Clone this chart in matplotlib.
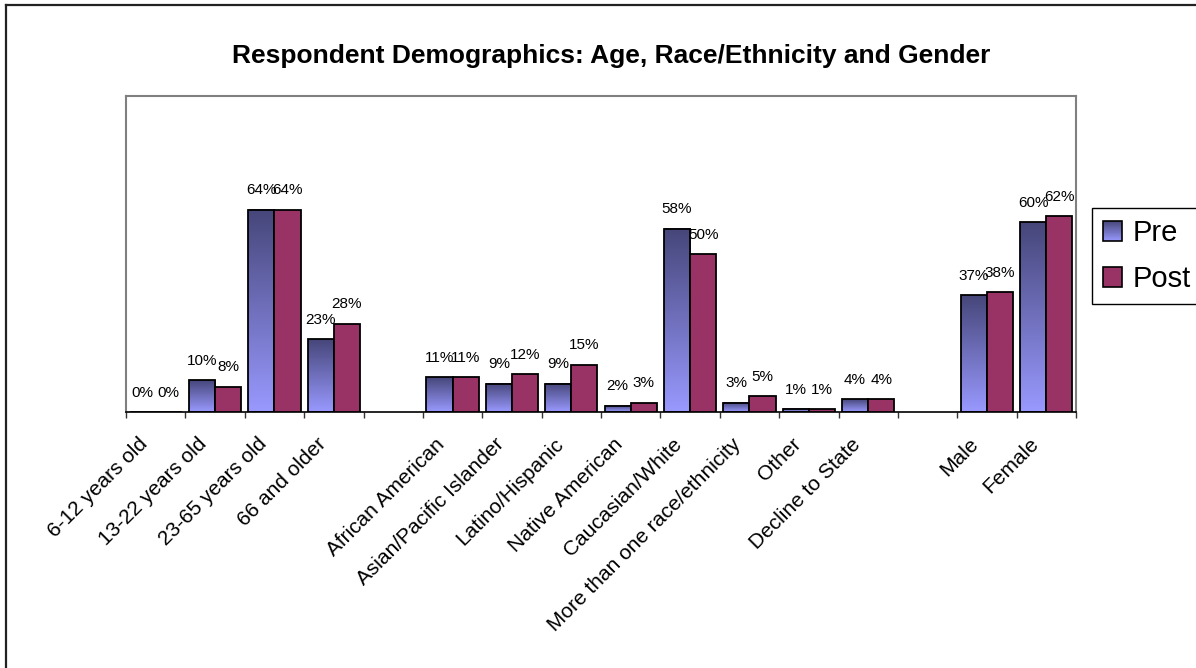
import numpy as np
import matplotlib.pyplot as plt
from matplotlib.patches import Rectangle, Patch
from matplotlib.colors import LinearSegmentedColormap
from matplotlib.legend_handler import HandlerBase
from matplotlib.image import BboxImage
from matplotlib.transforms import Bbox, TransformedBbox, ScaledTranslation
from matplotlib.lines import Line2D

# survey data (fraction of respondents), blank slots separate the groups
categories = ['6-12 years old', '13-22 years old', '23-65 years old', '66 and older', '',
              'African American', 'Asian/Pacific Islander', 'Latino/Hispanic',
              'Native American', 'Caucasian/White', 'More than one race/ethnicity',
              'Other', 'Decline to State', '', 'Male', 'Female']
pre = [0.00, 0.10, 0.64, 0.23, np.nan,
       0.11, 0.09, 0.09, 0.02, 0.58, 0.03, 0.01, 0.04, np.nan,
       0.37, 0.60]
post = [0.00, 0.08, 0.64, 0.28, np.nan,
        0.11, 0.12, 0.15, 0.03, 0.50, 0.05, 0.01, 0.04, np.nan,
        0.38, 0.62]

plt.rcParams['font.family'] = ['Liberation Sans', 'DejaVu Sans']

W, H = 1196, 668
PRE_LIGHT, PRE_DARK = '#9999ff', '#46467a'
POST_COL = '#993366'
pre_cmap = LinearSegmentedColormap.from_list('pre', [PRE_LIGHT, PRE_DARK])
grad = np.linspace(0, 1, 256).reshape(-1, 1)


class GradientHandler(HandlerBase):
    def create_artists(self, legend, orig_handle, xdescent, ydescent,
                       width, height, fontsize, trans):
        bb = Bbox.from_bounds(-xdescent, -ydescent, width, height)
        img = BboxImage(TransformedBbox(bb, trans), cmap=pre_cmap,
                        interpolation='bilinear', origin='lower')
        img.set_data(grad)
        edge = Rectangle((-xdescent, -ydescent), width, height, fill=False,
                         edgecolor='black', lw=1.2, transform=trans)
        return [img, edge]


fig = plt.figure(figsize=(W / 100, H / 100), dpi=100)
ax = fig.add_axes([126 / W, 1 - 412 / H, 950 / W, 316 / H])

x = np.arange(len(categories)) + 0.5
bw = 0.44

# Pre bars: vertical gradient, dark at the top
for xi, v in zip(x, pre):
    if np.isnan(v):
        continue
    if v > 0:
        ax.imshow(grad, cmap=pre_cmap, extent=[xi - bw, xi, 0, v], origin='lower',
                  aspect='auto', interpolation='bilinear', zorder=2)
    ax.add_patch(Rectangle((xi - bw, 0), bw, v, fill=False, edgecolor='black',
                           lw=1.3, zorder=3))

ax.bar(x + bw / 2, post, bw, color=POST_COL, edgecolor='black', lw=1.3, zorder=3)

for series, dx in ((pre, -bw / 2), (post, bw / 2)):
    for xi, v in zip(x, series):
        if np.isnan(v):
            continue
        ax.annotate(f'{v:.0%}', (xi + dx, v), xytext=(0, 11), textcoords='offset points',
                    ha='center', va='baseline', fontsize=11)

ax.set_xlim(0, len(categories))
ax.set_ylim(0, 1)
ax.set_yticks([])

ax.set_xticks(np.arange(len(categories) + 1))
ax.set_xticklabels([])
ax.set_xticks(x, minor=True)
ax.set_xticklabels(categories, minor=True, rotation=45, ha='right', va='center',
                   rotation_mode='anchor', fontsize=15)
ax.tick_params(axis='x', which='major', length=4.5, width=1, color='#333333')
ax.tick_params(axis='x', which='minor', length=0, pad=21)
shift = ScaledTranslation(-11 / 100, 0, fig.dpi_scale_trans)
for lab in ax.get_xticklabels(minor=True):
    lab.set_transform(lab.get_transform() + shift)

for side in ('left', 'top', 'right'):
    ax.spines[side].set_color('#808080')
    ax.spines[side].set_linewidth(1.5)
ax.spines['bottom'].set_color('black')
ax.spines['bottom'].set_linewidth(1.2)

fig.text(611 / W, 1 - 63 / H, 'Respondent Demographics: Age, Race/Ethnicity and Gender',
         ha='center', va='baseline', fontsize=19, fontweight='bold')

handles = [Patch(label='Pre'),
           Patch(facecolor=POST_COL, edgecolor='black', lw=1.2, label='Post')]
leg = fig.legend(handles=handles, handler_map={handles[0]: GradientHandler()},
                 loc='upper left', bbox_to_anchor=(1092 / W, 1 - 208 / H),
                 fontsize=21, frameon=True, fancybox=False, edgecolor='black',
                 framealpha=1, handlelength=0.65, handleheight=0.65,
                 handletextpad=0.35, borderpad=0.38, labelspacing=0.62,
                 borderaxespad=0)
leg.get_frame().set_linewidth(1.0)

# chart-area frame (only top and left edges fall inside the image)
fig.add_artist(Line2D([6 / W, 6 / W], [0, 1 - 5 / H], color='#222222', lw=1.6))
fig.add_artist(Line2D([6 / W, 1], [1 - 5 / H, 1 - 5 / H], color='#222222', lw=1.6))

fig.savefig('out.png', dpi=100)
